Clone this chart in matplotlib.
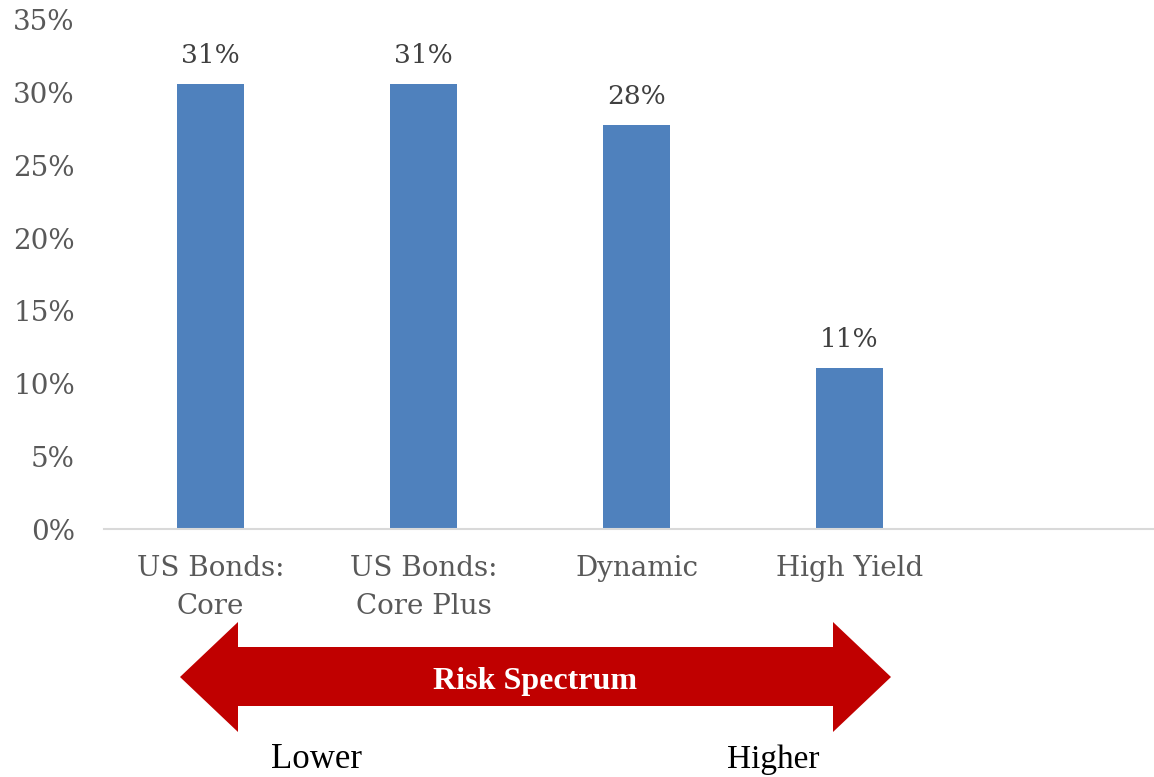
import matplotlib.pyplot as plt
from matplotlib.patches import Polygon

categories = ['US Bonds:\nCore', 'US Bonds:\nCore Plus', 'Dynamic', 'High Yield']
values = [30.6, 30.6, 27.8, 11.1]
yticks = [0, 5, 10, 15, 20, 25, 30, 35]

W, H = 1154, 777
fig = plt.figure(figsize=(W / 100, H / 100), dpi=100)
ax = fig.add_axes([104 / W, (H - 529) / H, 1 - 104 / W, (529 - 20) / H])

gray = '#595959'
ax.bar(range(len(values)), values, width=0.315, color='#4F81BD')
for i, v in enumerate(values):
    ax.text(i, v + 1.1, f'{v:.0f}%', ha='center', va='bottom',
            fontsize=19, color='#404040', family='DejaVu Serif')

ax.set_xlim(-0.5, 4.43)
ax.set_ylim(0, 35)
ax.set_yticks(yticks)
ax.set_yticklabels([f'{t}%' for t in yticks], family='DejaVu Serif',
                   fontsize=20, color=gray)
ax.set_xticks(range(len(categories)))
ax.set_xticklabels(categories, family='DejaVu Serif', fontsize=20,
                   color=gray, linespacing=1.5)
ax.tick_params(length=0, axis='y', pad=21)
ax.tick_params(length=0, axis='x', pad=19)
for s in ['top', 'right', 'left']:
    ax.spines[s].set_visible(False)
ax.spines['bottom'].set_color('#D9D9D9')
ax.spines['bottom'].set_linewidth(1.5)

# risk spectrum arrow (figure pixels, y from top)
pts = [(180, 677), (238, 622), (238, 647), (833, 647), (833, 622),
       (891, 677), (833, 732), (833, 706), (238, 706), (238, 732)]
arrow = Polygon([(x / W, 1 - y / H) for x, y in pts], closed=True,
                transform=fig.transFigure, facecolor='#C00000',
                edgecolor='none')
fig.patches.append(arrow)
fig.text(535 / W, 1 - 682 / H, 'Risk Spectrum', ha='center', va='center',
         color='white', fontsize=23, fontweight='bold', family='Liberation Serif')
fig.text(317 / W, 1 - 759 / H, 'Lower', ha='center', va='center',
         color='black', fontsize=25, family='Liberation Serif')
fig.text(773 / W, 1 - 760 / H, 'Higher', ha='center', va='center',
         color='black', fontsize=24, family='Liberation Serif')

fig.savefig('out.png', dpi=100)
